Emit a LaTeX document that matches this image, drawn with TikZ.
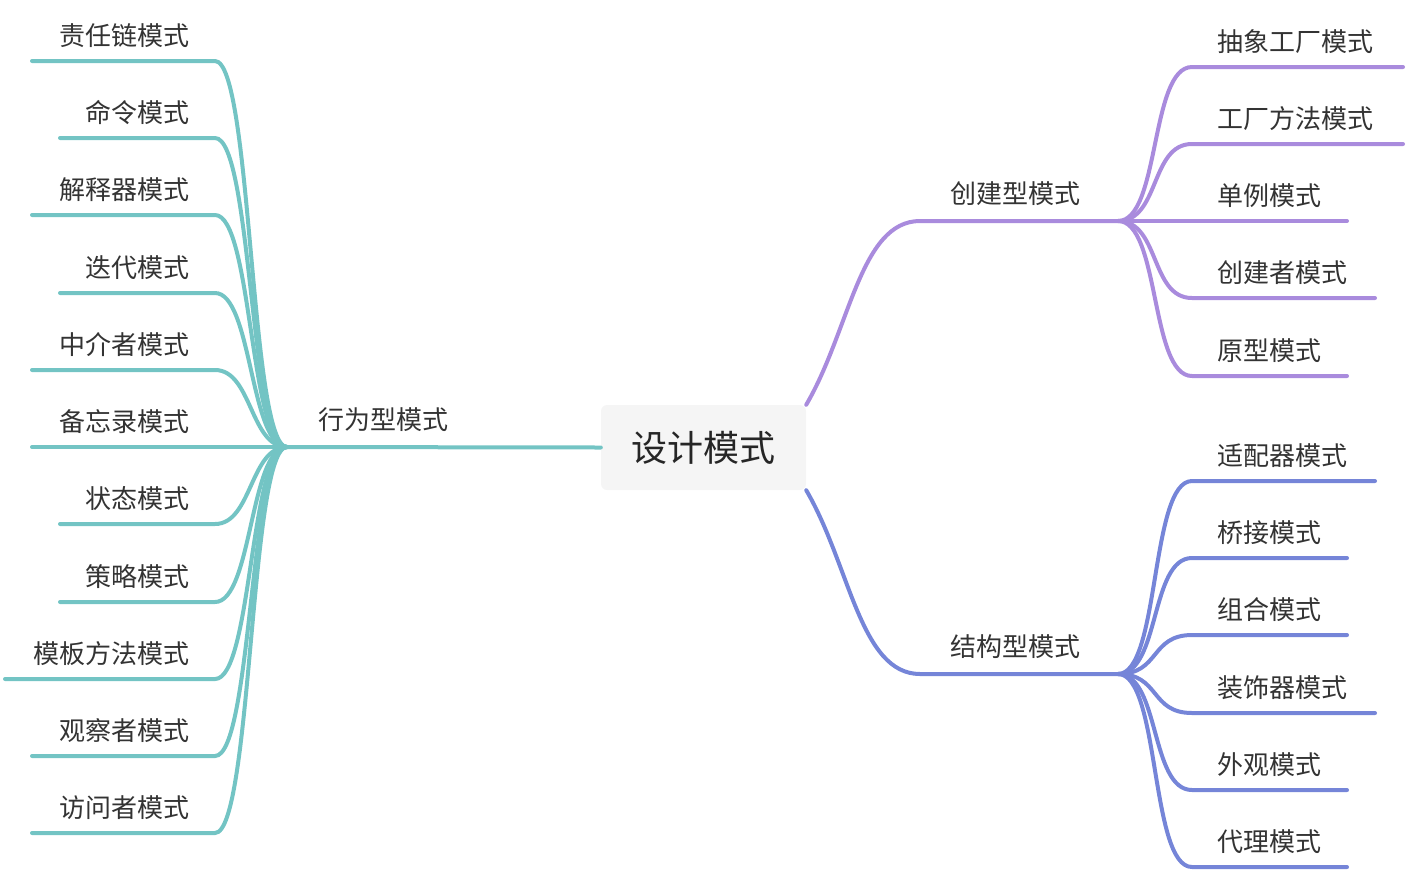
\documentclass[tikz,border=0pt]{standalone}
\usepackage{fontspec}
\newfontfamily\cjk{Noto Sans CJK SC}
\usetikzlibrary{positioning}
\definecolor{teal}{RGB}{115,196,196}
\definecolor{lilac}{RGB}{169,139,221}
\definecolor{blau}{RGB}{117,133,216}
\tikzset{
  branch/.style={line width=4pt, line cap=round},
  leaf/.style={inner sep=0pt, font=\cjk\fontsize{26}{30}\selectfont, text=black!80},
}
\begin{document}
\begin{tikzpicture}[x=1pt,y=-1pt]
\useasboundingbox (0,0) rectangle (1408,871);
% centre
\node[fill=black!4, rounded corners=6pt, minimum width=205pt, minimum height=85pt,
      font=\cjk\fontsize{36}{40}\selectfont, text=black!85] (root) at (703.5,447.5) {设计模式};
% behaviour
\coordinate (bhub) at (287,447);
\draw[branch,teal] (root.west) -- (bhub);
\node[leaf, anchor=south west] (beh) at (318,432) {行为型模式};
\foreach \y/\x/\t [count=\i] in {61/32/责任链模式,138/60/命令模式,215/32/解释器模式,293/60/迭代模式,
  370/32/中介者模式,447/32/备忘录模式,524/60/状态模式,602/60/策略模式,679/5/模板方法模式,
  756/32/观察者模式,833/32/访问者模式}{
  \coordinate (bl\i) at (\x,\y);
  \node[leaf, anchor=south east] (bt\i) at (190,\y-13) {\t};
  \draw[branch,teal] (bhub) .. controls (250,447) and (252,\y) .. (215,\y) -- (bl\i);
}
% creational
\coordinate (chub) at (1118,221);
\draw[branch,lilac] (root.north east) .. controls (850,330) and (860,221) .. (920,221) -- (chub);
\node[leaf, anchor=south west] (cre) at (950,206) {创建型模式};
\foreach \y/\x/\t [count=\i] in {67/1403/抽象工厂模式,144/1403/工厂方法模式,221/1347/单例模式,
  298/1375/创建者模式,376/1347/原型模式}{
  \coordinate (cl\i) at (\x,\y);
  \node[leaf, anchor=south west] (ct\i) at (1217,\y-13) {\t};
  \draw[branch,lilac] (chub) .. controls (1160,221) and (1150,\y) .. (1192,\y) -- (cl\i);
}
% structural
\coordinate (shub) at (1118,674);
\draw[branch,blau] (root.south east) .. controls (850,565) and (860,674) .. (920,674) -- (shub);
\node[leaf, anchor=south west] (str) at (950,659) {结构型模式};
\foreach \y/\x/\t [count=\i] in {481/1375/适配器模式,558/1347/桥接模式,635/1347/组合模式,
  713/1375/装饰器模式,790/1347/外观模式,867/1347/代理模式}{
  \coordinate (sl\i) at (\x,\y);
  \node[leaf, anchor=south west] (st\i) at (1217,\y-13) {\t};
  \draw[branch,blau] (shub) .. controls (1160,674) and (1150,\y) .. (1192,\y) -- (sl\i);
}
\end{tikzpicture}
\end{document}
